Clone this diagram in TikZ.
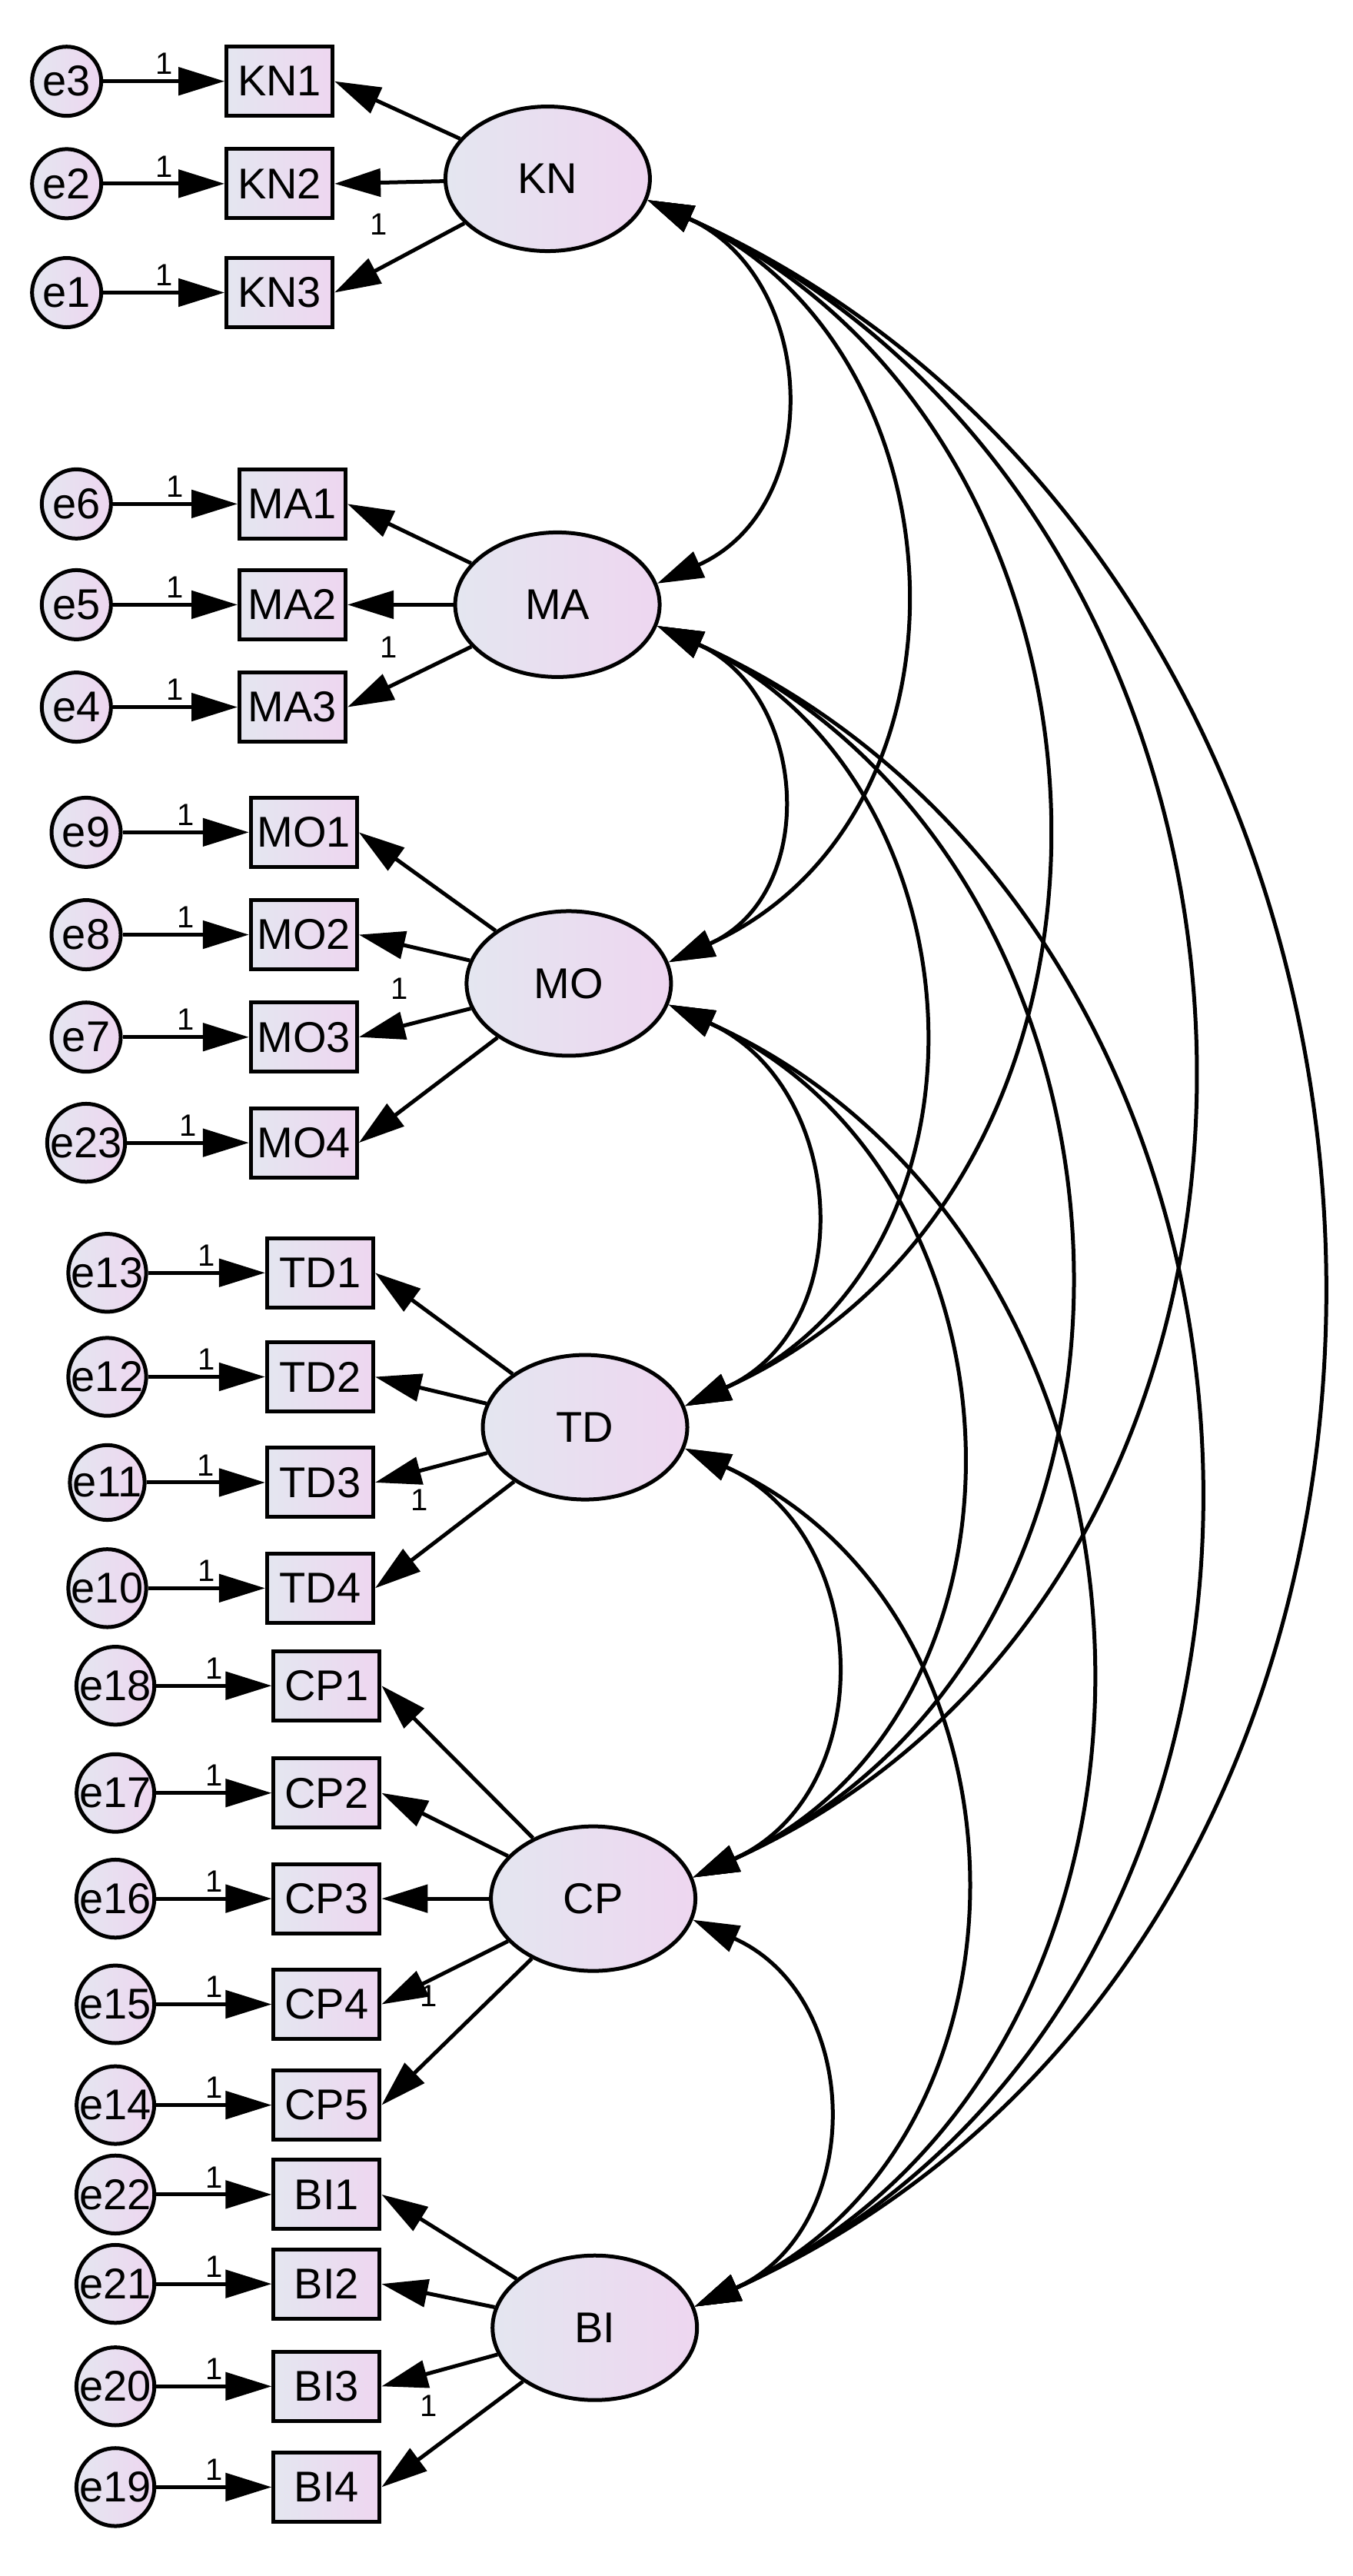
\documentclass[tikz,border=0pt]{standalone}
\usepackage{fontspec}
\setmainfont{Liberation Sans}
\usetikzlibrary{arrows.meta,shapes.geometric}
\definecolor{cA}{RGB}{228,230,240}
\definecolor{cB}{RGB}{238,214,240}
\begin{document}
\begin{tikzpicture}[x=2.114pt,y=-2.114pt,
  lw/.style={line width=5pt},
  tip/.style={-{Triangle[length=60pt,width=36pt]}},
  dtip/.style={{Triangle[length=60pt,width=36pt]}-{Triangle[length=60pt,width=36pt]}},
  obs/.style={draw,lw,rectangle,minimum width=138pt,minimum height=90pt,inner sep=0pt,left color=cA,right color=cB,font=\fontsize{56}{60}\selectfont},
  err/.style={draw,lw,circle,minimum size=90pt,inner sep=0pt,left color=cA,right color=cB,font=\fontsize{56}{60}\selectfont},
  lat/.style={draw,lw,ellipse,minimum width=266pt,minimum height=188pt,inner sep=0pt,left color=cA,right color=cB,font=\fontsize{56}{60}\selectfont},
  one/.style={font=\fontsize{40}{44}\selectfont}]
\useasboundingbox (0,0) rectangle (832.1,1584.7);
% latent
\node[lat] (KN) at (337,110) {KN};
\node[lat] (MA) at (343,372) {MA};
\node[lat] (MO) at (350,605) {MO};
\node[lat] (TD) at (360,878) {TD};
\node[lat] (CP) at (365,1168) {CP};
\node[lat] (BI) at (366,1432) {BI};
% indicators: name/x/y/err/ex/latent
\foreach \n/\x/\y/\e/\ex/\L in {
 KN1/172/50/e3/41/KN, KN2/172/113/e2/41/KN, KN3/172/180/e1/41/KN,
 MA1/180/310/e6/47/MA, MA2/180/372/e5/47/MA, MA3/180/435/e4/47/MA,
 MO1/187/512/e9/53/MO, MO2/187/575/e8/53/MO, MO3/187/638/e7/53/MO, MO4/187/703/e23/53/MO,
 TD1/197/783/e13/66/TD, TD2/197/847/e12/66/TD, TD3/197/912/e11/66/TD, TD4/197/977/e10/66/TD,
 CP1/201/1037/e18/71/CP, CP2/201/1103/e17/71/CP, CP3/201/1168/e16/71/CP, CP4/201/1233/e15/71/CP, CP5/201/1295/e14/71/CP,
 BI1/201/1350/e22/71/BI, BI2/201/1405/e21/71/BI, BI3/201/1468/e20/71/BI, BI4/201/1530/e19/71/BI}{
  \node[obs] (\n) at (\x,\y) {\n};
  \node[err] (\e) at (\ex,\y) {\e};
  \draw[lw,tip] (\e) -- (\n) node[pos=0.5,above=3pt,one] {1};
  \draw[lw,tip] (\L) -- (\n.east);
}
% loading labels "1"
\node[one] at (233,138) {1};
\node[one] at (239,398) {1};
\node[one] at (246,608) {1};
\node[one] at (258,923) {1};
\node[one] at (264,1228) {1};
\node[one] at (264,1480) {1};
% covariances: a/b/vertical distance
\foreach \a/\b/\d in {KN/MA/262,MA/MO/233,MO/TD/273,TD/CP/290,CP/BI/264,
  KN/MO/495,MA/TD/506,MO/CP/563,TD/BI/554,
  KN/TD/768,MA/CP/796,MO/BI/827,
  KN/CP/1058,MA/BI/1060,
  KN/BI/1322}{
  \pgfmathsetmacro\dx{0.40*\d}
  \pgfmathsetmacro\dy{0.18*\d}
  \draw[lw,dtip] (\a.-12) .. controls +(\dx,\dy) and +(\dx,-\dy) .. (\b.12);
}
\end{tikzpicture}
\end{document}
